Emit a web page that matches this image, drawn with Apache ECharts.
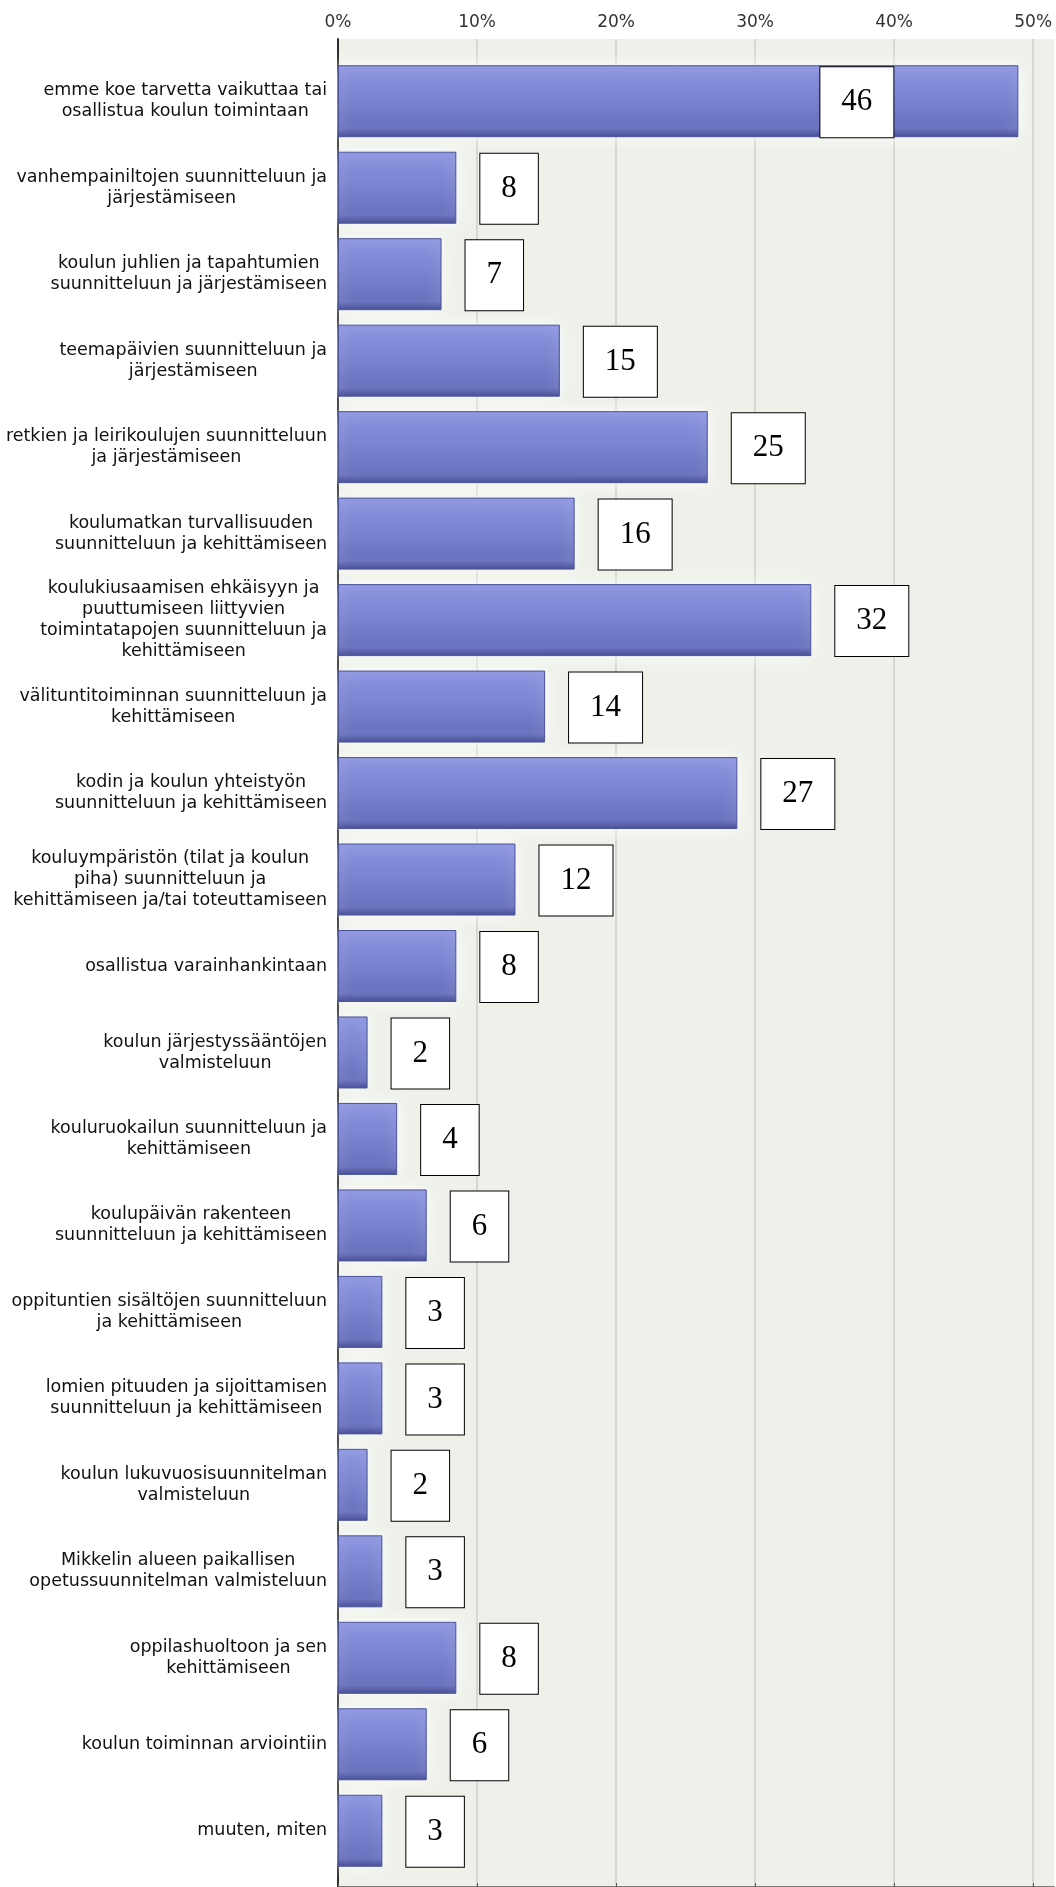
<!DOCTYPE html>
<html>
<head>
<meta charset="utf-8">
<script src="https://cdn.jsdelivr.net/npm/echarts@6/dist/echarts.min.js"></script>
<style>
  html, body { margin: 0; padding: 0; background: #ffffff; }
  #chart { width: 1056px; height: 1887px; }
</style>
</head>
<body>
<div id="chart"></div>
<script>
// Answer options (multi-line labels)
const categories = [
  'emme koe tarvetta vaikuttaa tai\nosallistua koulun toimintaan',
  'vanhempainiltojen suunnitteluun ja\njärjestämiseen',
  'koulun juhlien ja tapahtumien\nsuunnitteluun ja järjestämiseen',
  'teemapäivien suunnitteluun ja\njärjestämiseen',
  'retkien ja leirikoulujen suunnitteluun\nja järjestämiseen',
  'koulumatkan turvallisuuden\nsuunnitteluun ja kehittämiseen',
  'koulukiusaamisen ehkäisyyn ja\npuuttumiseen liittyvien\ntoimintatapojen suunnitteluun ja\nkehittämiseen',
  'välituntitoiminnan suunnitteluun ja\nkehittämiseen',
  'kodin ja koulun yhteistyön\nsuunnitteluun ja kehittämiseen',
  'kouluympäristön (tilat ja koulun\npiha) suunnitteluun ja\nkehittämiseen ja/tai toteuttamiseen',
  'osallistua varainhankintaan',
  'koulun järjestyssääntöjen\nvalmisteluun',
  'kouluruokailun suunnitteluun ja\nkehittämiseen',
  'koulupäivän rakenteen\nsuunnitteluun ja kehittämiseen',
  'oppituntien sisältöjen suunnitteluun\nja kehittämiseen',
  'lomien pituuden ja sijoittamisen\nsuunnitteluun ja kehittämiseen',
  'koulun lukuvuosisuunnitelman\nvalmisteluun',
  'Mikkelin alueen paikallisen\nopetussuunnitelman valmisteluun',
  'oppilashuoltoon ja sen\nkehittämiseen',
  'koulun toiminnan arviointiin',
  'muuten, miten'
];

// Number of respondents choosing each option
const counts = [46, 8, 7, 15, 25, 16, 32, 14, 27, 12, 8, 2, 4, 6, 3, 3, 2, 3, 8, 6, 3];

// Total respondents (bar length = share of respondents, %)
const respondents = 94;

// Percentage axis ticks
const tickValues = [0, 10, 20, 30, 40, 50];

const percents = counts.map(c => c / respondents * 100);

const AXIS_MAX = 51.5;

const barGradient = new echarts.graphic.LinearGradient(0, 0, 0, 1, [
  { offset: 0, color: '#8b94e0' },
  { offset: 0.45, color: '#7a84d0' },
  { offset: 0.88, color: '#6770bd' },
  { offset: 1, color: '#3a4290' }
]);

const seriesData = percents.map(p => {
  const item = { value: p };
  // very long bar: the count box sits inside the bar
  if (p > 45) {
    item.label = { position: 'insideRight', distance: 125 };
  }
  return item;
});

const chart = echarts.init(document.getElementById('chart'), null, { renderer: 'canvas' });

chart.setOption({
  animation: false,
  backgroundColor: '#ffffff',
  grid: [
    // bars
    { left: 338, right: 2, top: 58, bottom: 13, containLabel: false, outerBoundsMode: 'none' },
    // plot backdrop with percentage scale
    { left: 338, right: 2, top: 39, bottom: 0, show: true, backgroundColor: '#eef1ea', borderWidth: 0,
      containLabel: false, outerBoundsMode: 'none' }
  ],
  xAxis: [
    {
      gridIndex: 0, type: 'value', min: 0, max: AXIS_MAX, interval: 10, show: false
    },
    {
      gridIndex: 1, type: 'value', position: 'top', min: 0, max: AXIS_MAX, interval: 10,
      axisLine: { show: true, lineStyle: { color: '#555555', width: 1.5 } },
      axisTick: { show: true, inside: false, length: 4, customValues: tickValues, lineStyle: { color: '#555555' } },
      axisLabel: {
        margin: 8,
        customValues: tickValues,
        color: '#333333',
        fontFamily: 'DejaVu Sans',
        fontSize: 17,
        formatter: v => (tickValues.indexOf(Math.round(v * 1000) / 1000) >= 0 ? v + '%' : '')
      },
      splitLine: { show: true, lineStyle: { color: '#d5d8d0', width: 2 } }
    }
  ],
  yAxis: [
    {
      gridIndex: 0, type: 'category', data: categories, inverse: true,
      axisLine: { show: false },
      axisTick: { show: false },
      axisLabel: {
        margin: 11,
        align: 'right',
        color: '#111111',
        fontFamily: 'DejaVu Sans',
        fontSize: 17.5,
        lineHeight: 21,
        formatter: v => v.split('\n').map(s => '{c|' + s + '}').join('\n'),
        rich: {
          c: { align: 'center', fontFamily: 'DejaVu Sans', fontSize: 17.5, lineHeight: 21, color: '#111111' }
        }
      }
    },
    {
      gridIndex: 1, type: 'value', min: 0, max: 1,
      axisLine: { show: true, onZero: false, lineStyle: { color: '#2b2b2b', width: 2 } },
      axisTick: { show: false },
      axisLabel: { show: false },
      splitLine: { show: false }
    }
  ],
  series: [
    {
      type: 'bar',
      xAxisIndex: 0,
      yAxisIndex: 0,
      data: seriesData,
      barWidth: 72,
      itemStyle: {
        color: barGradient,
        borderColor: '#4b5399',
        borderWidth: 1,
        shadowColor: 'rgba(255,255,255,1)',
        shadowBlur: 14
      },
      label: {
        show: true,
        position: 'right',
        distance: 24,
        formatter: p => String(counts[p.dataIndex]),
        fontFamily: 'Liberation Serif',
        fontSize: 31,
        lineHeight: 34,
        color: '#000000',
        backgroundColor: '#ffffff',
        borderColor: '#000000',
        borderWidth: 1,
        padding: [18, 21, 18, 21],
        offset: [0, 1]
      }
    }
  ]
});
</script>
</body>
</html>
